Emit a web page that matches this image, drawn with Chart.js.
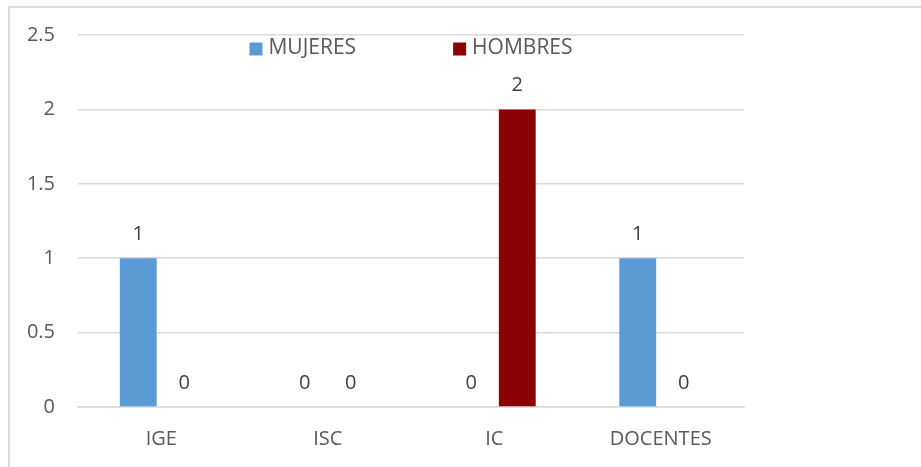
<!DOCTYPE html>
<html>
<head>
<meta charset="utf-8">
<script src="https://cdn.jsdelivr.net/npm/chart.js@4.4.1/dist/chart.umd.min.js"></script>
<style>
  html, body { margin: 0; padding: 0; background: #ffffff; overflow: hidden; }
  #wrap { position: relative; width: 921px; height: 467px; }
  #frame { position: absolute; left: 8px; top: 6px; width: 1000px; height: 600px;
           border-left: 2px solid #d9d9d9; border-top: 2px solid #d9d9d9; box-sizing: border-box; }
  canvas { position: absolute; left: 0; top: 0; }
</style>
</head>
<body>
<div id="wrap">
  <div id="frame"></div>
  <canvas id="c" width="921" height="467"></canvas>
</div>
<script>
const categories = ['IGE', 'ISC', 'IC', 'DOCENTES'];
const mujeres = [1, 0, 0, 1];
const hombres = [0, 0, 2, 0];
const seriesNames = ['MUJERES', 'HOMBRES'];
const yTicks = [0, 0.5, 1, 1.5, 2, 2.5];

const FONT = '"Open Sans", "Liberation Sans", sans-serif';
const TEXT = '#595959';

const valueLabels = {
  id: 'valueLabels',
  afterDatasetsDraw(chart) {
    const ctx = chart.ctx;
    ctx.save();
    ctx.font = '20px ' + FONT;
    ctx.fillStyle = '#404040';
    ctx.textAlign = 'center';
    ctx.textBaseline = 'alphabetic';
    chart.data.datasets.forEach((ds, i) => {
      const meta = chart.getDatasetMeta(i);
      meta.data.forEach((bar, j) => {
        ctx.fillText(String(ds.data[j]), bar.x, bar.y - 18);
      });
    });
    ctx.restore();
  }
};

const customLegend = {
  id: 'customLegend',
  afterDraw(chart) {
    const ctx = chart.ctx;
    const area = chart.chartArea;
    ctx.save();
    ctx.font = '21px ' + FONT;
    const box = 13, gapBox = 6, gapItem = 97;
    const items = chart.data.datasets.map(ds => ({ label: ds.label, color: ds.backgroundColor, w: ctx.measureText(ds.label).width }));
    let total = 0;
    items.forEach((it, i) => { total += box + gapBox + it.w + (i < items.length - 1 ? gapItem : 0); });
    let x = (area.left + area.right) / 2 - total / 2;
    const cy = area.top + 13;
    ctx.textBaseline = 'middle';
    ctx.textAlign = 'left';
    items.forEach(it => {
      ctx.fillStyle = it.color;
      ctx.fillRect(x, cy - box / 2 + 1, box, box);
      x += box + gapBox;
      ctx.fillStyle = TEXT;
      ctx.fillText(it.label, x, cy);
      x += it.w + gapItem;
    });
    ctx.restore();
  }
};

new Chart(document.getElementById('c'), {
  type: 'bar',
  data: {
    labels: categories,
    datasets: [
      { label: seriesNames[0], data: mujeres, backgroundColor: '#5B9BD5' },
      { label: seriesNames[1], data: hombres, backgroundColor: '#8B0000' }
    ]
  },
  options: {
    responsive: false,
    animation: false,
    events: [],
    layout: { padding: { left: 0, right: 177, top: 35, bottom: 0 } },
    datasets: { bar: { categoryPercentage: 0.553, barPercentage: 0.8 } },
    plugins: { legend: { display: false }, tooltip: { enabled: false } },
    scales: {
      x: {
        grid: { display: false, drawTicks: false },
        border: { display: true, color: '#d9d9d9', width: 1.5 },
        ticks: { color: TEXT, font: { family: FONT, size: 20 }, padding: 20 },
        afterFit(axis) { axis.height = 60; }
      },
      y: {
        min: 0, max: 2.5,
        afterBuildTicks(axis) { axis.ticks = yTicks.map(v => ({ value: v })); },
        grid: { color: '#d9d9d9', lineWidth: 1.5, drawTicks: false },
        border: { display: false },
        ticks: { color: TEXT, font: { family: FONT, size: 20 }, padding: 23,
                 callback: v => String(v) },
        afterFit(axis) { axis.width = 78; }
      }
    }
  },
  plugins: [valueLabels, customLegend]
});
</script>
</body>
</html>
